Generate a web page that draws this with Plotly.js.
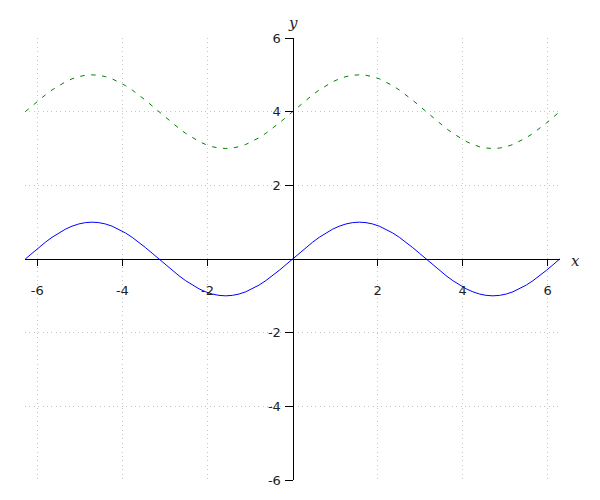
<!DOCTYPE html>
<html>
<head>
<meta charset="utf-8">
<script src="https://cdn.plot.ly/plotly-3.0.1.min.js"></script>
<style>html,body{margin:0;padding:0;background:#fff;}</style>
</head>
<body>
<div id="chart" style="width:600px;height:500px;"></div>
<script>
const xValues = [
  -6.283, -6.126, -5.969, -5.812, -5.655, -5.498, -5.341, -5.184, -5.027, -4.869,
  -4.712, -4.555, -4.398, -4.241, -4.084, -3.927, -3.770, -3.613, -3.456, -3.299,
  -3.142, -2.985, -2.827, -2.670, -2.513, -2.356, -2.199, -2.042, -1.885, -1.728,
  -1.571, -1.414, -1.257, -1.100, -0.942, -0.785, -0.628, -0.471, -0.314, -0.157,
  0,
  0.157, 0.314, 0.471, 0.628, 0.785, 0.942, 1.100, 1.257, 1.414, 1.571,
  1.728, 1.885, 2.042, 2.199, 2.356, 2.513, 2.670, 2.827, 2.985, 3.142,
  3.299, 3.456, 3.613, 3.770, 3.927, 4.084, 4.241, 4.398, 4.555, 4.712,
  4.869, 5.027, 5.184, 5.341, 5.498, 5.655, 5.812, 5.969, 6.126, 6.283
];
const blueSeries = [
  0, 0.156, 0.309, 0.454, 0.588, 0.707, 0.809, 0.891, 0.951, 0.988,
  1, 0.988, 0.951, 0.891, 0.809, 0.707, 0.588, 0.454, 0.309, 0.156,
  0, -0.156, -0.309, -0.454, -0.588, -0.707, -0.809, -0.891, -0.951, -0.988,
  -1, -0.988, -0.951, -0.891, -0.809, -0.707, -0.588, -0.454, -0.309, -0.156,
  0,
  0.156, 0.309, 0.454, 0.588, 0.707, 0.809, 0.891, 0.951, 0.988, 1,
  0.988, 0.951, 0.891, 0.809, 0.707, 0.588, 0.454, 0.309, 0.156, 0,
  -0.156, -0.309, -0.454, -0.588, -0.707, -0.809, -0.891, -0.951, -0.988, -1,
  -0.988, -0.951, -0.891, -0.809, -0.707, -0.588, -0.454, -0.309, -0.156, 0
];
const greenSeries = [
  4, 4.156, 4.309, 4.454, 4.588, 4.707, 4.809, 4.891, 4.951, 4.988,
  5, 4.988, 4.951, 4.891, 4.809, 4.707, 4.588, 4.454, 4.309, 4.156,
  4, 3.844, 3.691, 3.546, 3.412, 3.293, 3.191, 3.109, 3.049, 3.012,
  3, 3.012, 3.049, 3.109, 3.191, 3.293, 3.412, 3.546, 3.691, 3.844,
  4,
  4.156, 4.309, 4.454, 4.588, 4.707, 4.809, 4.891, 4.951, 4.988, 5,
  4.988, 4.951, 4.891, 4.809, 4.707, 4.588, 4.454, 4.309, 4.156, 4,
  3.844, 3.691, 3.546, 3.412, 3.293, 3.191, 3.109, 3.049, 3.012, 3,
  3.012, 3.049, 3.109, 3.191, 3.293, 3.412, 3.546, 3.691, 3.844, 4
];
const xTicks = [-6, -4, -2, 2, 4, 6];
const xTickLabels = ['-6', '-4', '-2', '2', '4', '6'];
const yTicks = [-6, -4, -2, 2, 4, 6];
const yTickLabels = ['-6', '-4', '-2', '2', '4', '6'];
const xLabel = 'x';
const yLabel = 'y';

const traces = [
  {x: xValues, y: blueSeries, type: 'scatter', mode: 'lines',
   line: {color: '#0000ff', width: 1}, hoverinfo: 'skip'},
  {x: xValues, y: greenSeries, type: 'scatter', mode: 'lines',
   line: {color: '#007f00', width: 1, dash: '4.5px,6.5px'}, hoverinfo: 'skip'}
];

const axisFont = {family: 'DejaVu Sans', size: 13, color: '#222'};

const layout = {
  width: 600, height: 500,
  margin: {l: 25, r: 40, t: 38, b: 20, pad: 0},
  paper_bgcolor: '#fff', plot_bgcolor: '#fff',
  showlegend: false,
  font: axisFont,
  xaxis: {
    range: [-6.29, 6.29], tickmode: 'array', tickvals: xTicks, ticktext: xTickLabels,
    showgrid: true, gridcolor: '#c4c4c4', griddash: '1px,3.4px', gridwidth: 1,
    zeroline: false, showline: true, linecolor: '#000', linewidth: 1,
    ticks: 'outside', ticklen: 6, tickcolor: '#000', tickwidth: 1,
    anchor: 'free', position: 0.5, ticklabelstandoff: 13,
    tickfont: axisFont, fixedrange: true
  },
  yaxis: {
    range: [-6, 6], tickmode: 'array', tickvals: yTicks, ticktext: yTickLabels,
    showgrid: true, gridcolor: '#c4c4c4', griddash: '1px,3.4px', gridwidth: 1,
    zeroline: false, showline: true, linecolor: '#000', linewidth: 1,
    ticks: 'outside', ticklen: 8, tickcolor: '#000', tickwidth: 1,
    anchor: 'free', position: 0.5, ticklabelstandoff: 1,
    tickfont: axisFont, fixedrange: true
  },
  annotations: [
    {text: '<i>' + xLabel + '</i>', xref: 'paper', x: 1, yref: 'y', y: 0,
     xanchor: 'left', yanchor: 'middle', xshift: 9, yshift: -2, showarrow: false,
     font: {family: 'DejaVu Serif', size: 15, color: '#222'}},
    {text: '<i>' + yLabel + '</i>', xref: 'x', x: 0, yref: 'paper', y: 1,
     xanchor: 'center', yanchor: 'bottom', yshift: 4, showarrow: false,
     font: {family: 'DejaVu Serif', size: 15, color: '#222'}}
  ]
};

Plotly.newPlot('chart', traces, layout, {displayModeBar: false, staticPlot: true});
</script>
</body>
</html>
